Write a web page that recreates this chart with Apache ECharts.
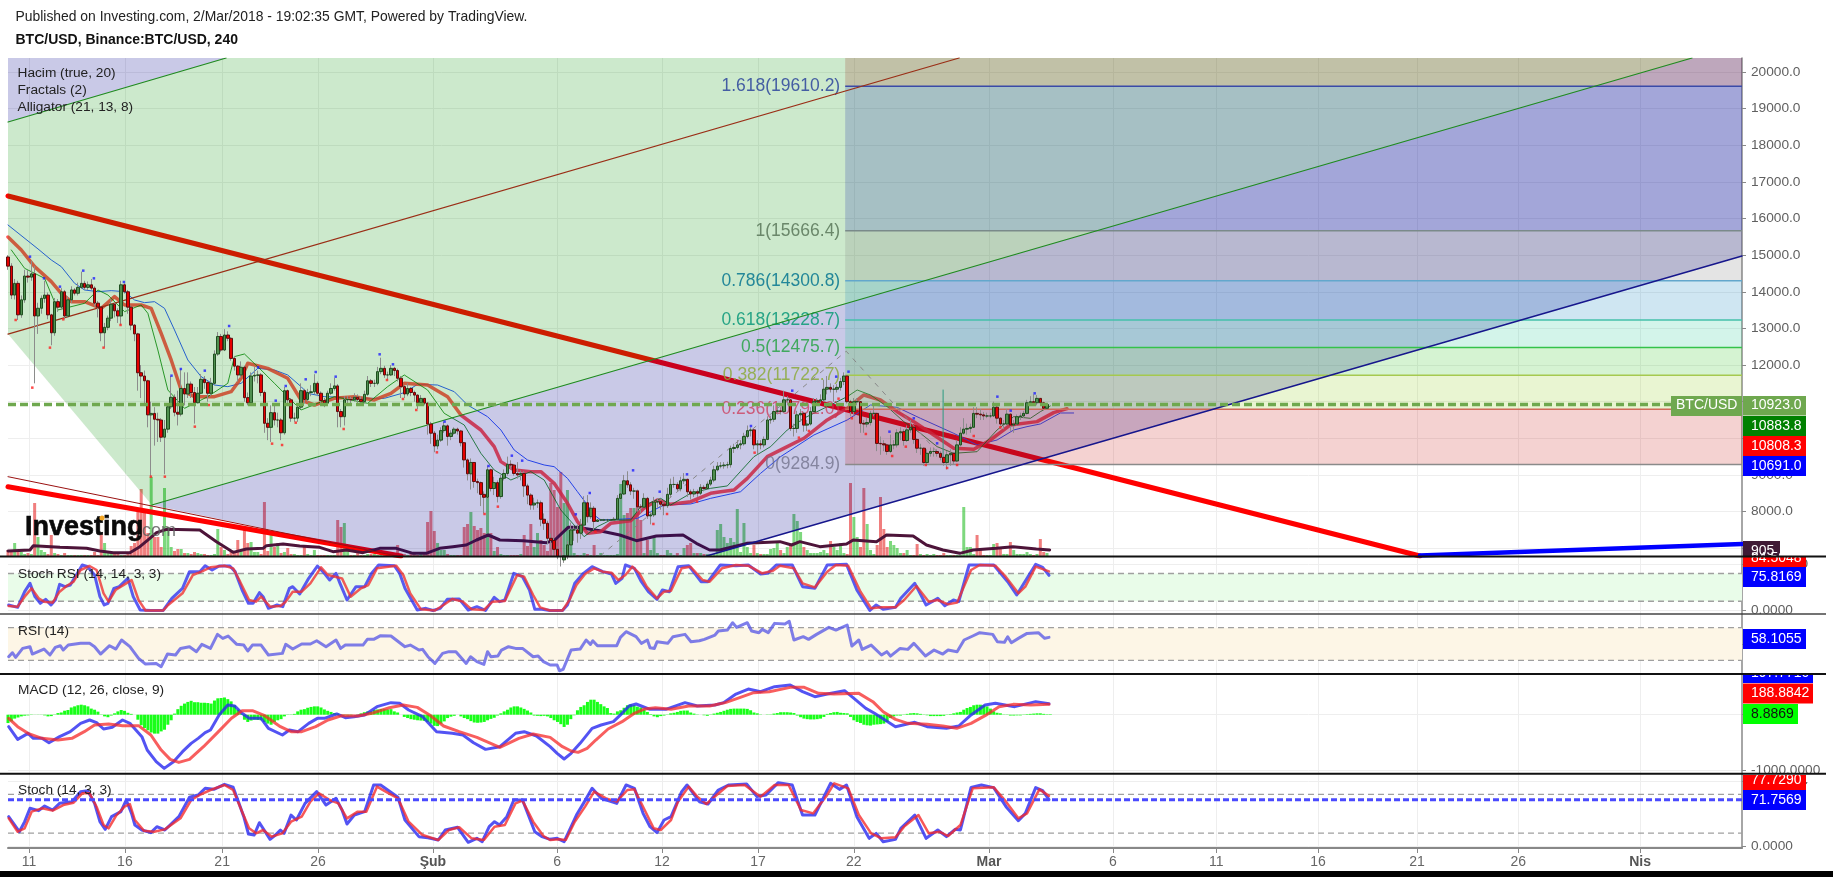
<!DOCTYPE html>
<html>
<head>
<meta charset="utf-8">
<style>html,body{margin:0;padding:0;background:#fff}#chart{width:1833px;height:877px}</style>
<script src="https://cdn.jsdelivr.net/npm/echarts@6/dist/echarts.min.js"></script>
</head>
<body>
<div id="chart"></div>
<script>
// BTC/USD 4h bars: open is the previous close
const firstOpen = 14950;
const closes = [14700,13910,14230,13370,13780,14430,14400,14490,13340,13550,
13820,13910,13370,12880,13730,13580,14000,13340,13780,14050,
13960,14120,14230,14120,14190,14100,13690,13580,12880,13030,
13280,13660,13480,13340,14190,14000,13580,13090,12850,11790,
11700,11570,10640,10680,10520,10500,10030,10250,10860,11120,
10710,10660,11360,11210,11480,11250,10970,11230,11610,11520,
11230,11500,12300,12780,12410,12820,12730,12180,11970,11730,
11940,11110,10970,11700,11720,11730,11250,10410,10300,10700,
10500,10500,10150,11300,11050,10550,10550,10850,11300,11060,
11250,11270,11500,11230,11030,10960,11230,11360,11430,10730,
10590,11050,11060,11050,11120,11060,11000,11200,11570,11500,
11500,11820,11910,11730,11730,11910,11850,11640,11410,11210,
11360,11250,11180,10970,11090,10960,10390,10140,9790,9950,
10210,10340,10050,10140,10250,10200,9880,9410,9030,9340,
8820,8790,8470,8390,9140,8630,8790,8410,8910,9040,
9290,9270,9040,9000,9040,8700,8450,8180,8230,8240,
7790,7680,7270,7210,6970,6770,6680,6790,7090,7500,
7500,7410,7630,8240,7860,8090,7730,7770,7770,7770,
7770,7770,7790,8360,8480,8840,8730,8560,8560,8130,
8120,8360,7880,7910,8260,8270,8200,8160,8470,8740,
8740,8620,8840,8880,8540,8480,8540,8500,8660,8630,
8750,8860,9140,9240,9250,9270,9280,9720,9750,9820,
9850,10050,10210,10230,9820,9850,9820,9970,10500,10520,
10730,10750,10730,11050,11050,10270,10270,10640,10680,10360,
10390,10730,11000,11020,11050,11340,11390,11340,11340,11390,
11550,11700,11000,10730,11000,11000,10410,10390,10430,10680,
10680,9860,9850,9820,9640,9820,9820,10150,10180,9940,
10230,10300,9970,9730,9730,9340,9590,9640,9640,9590,
9480,9340,9550,9590,9380,9820,10140,10250,10270,10300,
10680,10660,10640,10610,10610,10610,10850,10550,10390,10390,
10660,10360,10390,10590,10610,10680,10970,11000,10970,11090,
10970,10820,10923];
const highs = [15000,14780,14350,14300,13900,14600,14600,14850,14700,13700,
13900,14300,13980,13400,13830,13800,14100,14050,13880,14150,
14100,14250,14550,14300,14280,14350,14150,13750,13600,13150,
13350,13800,13700,13550,14300,14230,14050,13620,13120,12880,
12000,11850,11600,11000,10850,10700,10550,10500,10950,11700,
11200,11300,11900,11800,11800,11550,11400,11400,11750,11700,
11560,11650,12400,12900,12850,12980,12920,12760,12250,12000,
12100,11980,11250,11800,11950,11850,11780,11300,10550,10900,
10950,10700,10550,11400,11330,11100,10700,10950,11500,11350,
11350,11450,11750,11550,11280,11100,11300,11500,11650,11480,
10800,11150,11150,11130,11230,11200,11150,11300,11700,11620,
11600,11950,12200,11980,11820,12000,11950,11900,11700,11450,
11500,11400,11300,11200,11180,11100,10980,10450,10200,10100,
10300,10450,10380,10220,10300,10290,10230,9900,9450,9450,
9350,8900,8820,8550,9250,9170,8950,8850,9000,9150,
9500,9400,9300,9350,9120,9100,8760,8500,8380,8330,
8300,7950,7750,7400,7300,7050,6900,6900,7200,7700,
7600,7650,7800,8420,8450,8250,8150,7800,7800,7800,
7800,7800,7850,8450,8550,9000,9100,8800,8650,8600,
8200,8500,8400,8000,8400,8350,8300,8250,8650,8900,
8950,8800,8950,9050,8900,8600,8620,8600,8750,8720,
8820,8950,9250,9350,9350,9350,9360,9800,9850,9950,
9950,10150,10350,10300,10250,9950,9950,10050,10600,10620,
10900,10900,10850,11300,11150,11080,10400,10750,10800,10720,
10500,10850,11100,11100,11200,11600,11700,11500,11450,11480,
11650,11800,11720,11050,11100,11100,11020,10500,10550,10750,
10950,10700,10050,9950,9850,10100,9950,10250,10300,10250,
10350,10500,10320,10000,9850,9750,9700,9750,9750,9700,
9650,9550,9650,9700,9620,9950,10300,10550,10400,10400,
10850,10850,10800,10720,10700,10700,11000,10880,10580,10500,
10800,10680,10500,10650,10700,10750,11050,11150,11200,11180,
11100,11000,10960];
const lows = [14600,13800,13790,13230,13290,13700,14250,14300,11500,12850,
13400,13700,13250,12540,12800,13450,13500,13250,13300,13700,
13900,13900,14080,14050,14050,14050,13600,13300,12650,12480,
12950,13200,13300,13150,13100,13950,13400,12950,12650,11300,
11100,10900,10300,8960,9800,9900,9900,9020,10150,10800,
10600,10350,10600,10900,11100,11100,10400,10950,11200,11350,
11000,11150,11450,12250,12350,12380,12650,12120,11850,11550,
11650,11000,10900,10900,11550,11500,11150,10150,9950,9900,
10350,10300,9950,10100,10950,10450,10450,10450,10800,10950,
11000,11150,11200,11150,10950,10850,10900,11180,11300,10300,
10300,10350,10900,10900,11000,10950,10900,10950,11150,11400,
11400,11450,11750,11650,11600,11700,11700,11550,11100,11100,
11150,11150,11000,10800,10900,10900,10100,9850,9620,9700,
9900,10150,9800,9950,10100,10100,9780,9200,8850,8600,
8650,8500,8150,7950,8350,8550,8450,8250,8350,8850,
8980,9150,8980,8900,8850,8400,8200,8050,8050,8100,
7600,7500,7100,7000,6800,6700,6500,6600,6700,7050,
7200,7150,7250,7600,7700,7800,7500,7730,7740,7740,
7740,7740,7740,7770,8300,8450,8650,8450,8350,8000,
7950,8100,7800,7650,7850,8100,8050,7900,8100,8400,
8650,8550,8550,8750,8400,8330,8400,8400,8450,8550,
8600,8700,8800,9100,9180,9170,9180,9200,9600,9700,
9700,9800,10000,10050,9700,9560,9700,9750,9950,10400,
10450,10650,10650,10700,10900,10200,10050,10150,10450,10180,
10200,10350,10700,10950,10950,11000,11200,11250,11000,11250,
11300,11450,10950,10600,10650,10900,10150,10150,10300,10350,
10600,9650,9550,9650,9550,9600,9700,9750,9950,9800,
9900,10150,9850,9600,9550,9250,9300,9500,9500,9500,
9400,9250,9150,9250,9280,9350,9780,10100,10100,10150,
10280,10550,10500,10500,10550,10550,10580,10400,10250,10250,
10350,10200,10150,10350,10500,10550,10650,10900,10900,10900,
10900,10780,10780];
const volumes = [900,600,1950,600,600,300,450,300,7950,2850,
900,600,300,3150,450,300,150,450,150,150,
150,150,150,150,150,150,600,150,3450,1950,
450,600,300,300,150,150,300,1500,1950,6600,
10050,6900,3450,11850,2850,2850,1350,10200,4350,1350,
750,1050,1050,450,450,300,600,450,300,300,
150,150,300,4050,1350,900,300,600,450,2400,
900,3900,1950,2100,600,600,300,8100,750,3150,
1350,1950,450,600,1200,300,300,150,150,1350,
300,150,900,150,150,150,150,150,150,5400,
4350,4950,900,150,150,600,150,150,300,300,
300,150,300,150,300,150,300,1650,300,300,
150,300,300,150,300,300,5100,6750,3750,1950,
900,900,300,150,150,150,150,4350,4800,6600,
4500,3900,4200,3450,8700,3450,750,1350,300,150,
150,150,150,150,300,3150,1500,4800,1350,3450,
2400,1650,750,10950,9900,7350,12600,7950,9900,3900,
450,150,150,450,300,150,1650,150,450,150,
150,150,150,300,10800,6150,6450,7200,7200,9900,
5400,450,2400,900,2850,450,150,150,900,450,
150,450,150,1200,1650,1950,450,450,450,300,
300,300,300,3900,4800,2850,1950,2700,2100,7050,
600,4950,1350,450,1650,450,300,300,300,1050,
1200,1950,900,450,1350,1650,6300,5250,3600,1350,
900,450,450,450,600,900,450,2250,1350,900,
1950,450,300,10950,5850,2850,1350,10200,4800,900,
300,1650,8850,4050,1350,2250,1650,1200,450,450,
900,150,150,1800,300,150,300,150,300,150,
150,450,150,150,150,150,150,7350,1350,1350,
300,3150,1050,150,150,150,1800,1950,1050,300,
300,2100,900,300,300,300,600,300,150,300,
2550,600,450];
const volumeAverage = [[0,750],[6.6,900],[7.6,1550],[15.6,1300],[23.6,1150],[27.6,750],[31.6,500],[36.6,500],[39.6,1400],[42.6,2650],[44.6,3500],[47.6,4000],[57.6,3900],[62.6,2150],[67.6,550],[71.6,1050],[76.6,1150],[77.6,1550],[82.6,1800],[87.6,1500],[93.6,1300],[97.6,650],[101.6,900],[106.6,500],[111.6,1150],[116.6,1150],[121.6,400],[125.6,400],[129.6,1150],[133.6,1400],[137.6,1650],[140.7,2400],[144.2,3150],[147.7,2400],[154.7,2300],[161.7,2000],[164.2,2400],[168.2,4300],[170.7,4300],[177.7,3800],[183.7,3150],[188.7,2300],[194.7,3000],[202.7,3150],[206.7,1900],[210.7,900],[213.8,900],[221.8,1900],[231.8,2150],[235.3,1650],[237.8,2150],[243.8,1400],[251.8,1800],[253.8,2400],[260.8,2150],[263.8,3150],[271.8,3000],[275.8,1650],[280.8,900],[285.8,400],[289.8,900],[296.8,1150],[301.8,1400],[308.8,1050],[312.8,905]];

// Williams Alligator lines
const jawLine = [[0,15823],[9,15170],[13,14868],[16,14686],[20,14231],[23,14049],[27,14003],[31,14031],[35,14003],[38,13776],[41,13703],[44,13730],[47,13548],[50,12957],[54,12138],[58,11683],[62,11455],[66,11410],[70,11501],[75,11910],[80,11865],[84,11729],[88,11410],[90,11228],[95,11137],[101,11119],[107,11091],[113,11091],[119,11246],[123,11474],[129,11455],[134,11273],[138,10909],[144,10591],[148,10227],[152,9681],[156,9408],[161,9272],[164,9226],[168,8907],[171,8543],[174,8180],[176,7906],[178,7770],[183,7788],[189,7815],[193,7998],[197,8180],[205,8207],[211,8361],[217,8480],[220,8543],[226,9044],[232,9499],[242,10090],[252,10500],[259,10910],[267,10846],[274,10546],[284,10136],[291,9818],[297,9954],[302,10227],[306,10318],[310,10391],[316,10691],[320,10691]];
const teethLine = [[0,15495],[4,15141],[8,14686],[13,14276],[16,13958],[19,13730],[23,13730],[28,13548],[32,13867],[35,13639],[40,13639],[43,13548],[46,12866],[49,12138],[52,11319],[56,11137],[62,11137],[67,11273],[70,11638],[72,12047],[78,11910],[84,11638],[88,11046],[92,10909],[98,11091],[104,11137],[110,11046],[115,11228],[119,11501],[126,11455],[132,11137],[136,10636],[142,10227],[146,9772],[148,9363],[152,9135],[157,9090],[160,9090],[164,8771],[168,8225],[171,7725],[174,7406],[178,7452],[181,7679],[187,7752],[191,8089],[195,8316],[199,8198],[205,8270],[211,8498],[214,8543],[218,8589],[222,8907],[228,9499],[234,9772],[239,10000],[246,10500],[252,10818],[257,11183],[262,11046],[267,10727],[272,10455],[278,10090],[284,9727],[290,9700],[295,9954],[301,10364],[309,10455],[314,10700],[318,10808.3]];
const lipsLine = [[1,15141],[5,14640],[11,14367],[15,13503],[23,13685],[27,14049],[30,13912],[35,13458],[40,13639],[42,13412],[45,12411],[48,11319],[53,10818],[60,11137],[66,11501],[68,12230],[71,12302],[76,11865],[80,11501],[88,10773],[93,10955],[98,11137],[108,10955],[114,11410],[119,11729],[126,11319],[131,10682],[137,10364],[142,9590],[146,9135],[151,8862],[157,9090],[161,8862],[166,8043],[170,7633],[173,7315],[177,7588],[181,7770],[187,7770],[190,8134],[196,8361],[199,8180],[205,8498],[211,8634],[216,8700],[224,9499],[229,9772],[234,10227],[239,10548],[246,10864],[252,11137],[255,11319],[259,11183],[264,10864],[269,10455],[274,10136],[279,9772],[284,9590],[291,9635],[297,10227],[302,10591],[307,10546],[310,10727],[313,10883.8]];

// Bill Williams fractal marks
const fractalsUp = [[6.6,14959],[10.8,14367],[15.6,14140],[22.6,14577],[25.8,14367],[34.8,14267],[49.1,11710],[51.9,11892],[59.1,11847],[66.4,13066],[75.1,11938],[80.4,11028],[83.4,11428],[89.4,11610],[92.4,11810],[98.4,11683],[111.6,12293],[115.6,12020],[131.1,10455],[144.3,9244],[151.3,9526],[154.4,9390],[170.5,7925],[174.7,8507],[187.7,9126],[195.7,8543],[203.9,9017],[223.1,10336],[235.5,11301],[248.7,11683],[252.4,11819],[264.7,10181],[272,10546],[279,9863],[297.1,11137],[301.1,10755],[308.3,11228]];
const fractalsDown = [[2.3,13230],[7.3,11383],[12.6,12475],[16.6,13248],[28.7,12475],[33.8,13094],[42.9,8953],[47.1,8953],[56.1,10318],[60.3,10909],[79.3,9854],[82.3,9817],[86.4,10427],[100.8,10254],[113.8,11592],[118.6,11073],[122.6,10773],[128.8,9617],[143.1,7934],[147.1,8134],[176.4,7451],[193.8,7661],[197.9,7934],[206.9,8270],[224.2,9608],[237.5,10018],[240.5,10200],[249.4,11082],[253.4,10546],[257.6,10118],[265.5,9517],[269.6,9772],[275.6,9272],[282,9190],[285,9272],[290,10063],[298,10300]];

// Hand-drawn tools, anchored at bar index and price
const fibRatios = ['0','0.236','0.382','0.5','0.618','0.786','1','1.618'];
const fibPrices = [9284.9,10791.0,11722.7,12475.7,13228.7,14300.8,15666.4,19610.2];
const mainTrend = [[0,16615],[424,6787]];
const lowerTrend = [[0,8677],[118,6787]];
const thinLowerTrend = [[0,8952],[116.8,6787]];
const forkMedian = [[0,12847],[285.6,20382]];
const forkUpper = [[0,18635],[65.5,20382]];
const forkMiddle = [[43.2,8179],[505.7,20382]];
const forkLower = [[209.8,6787],[520.7,14977]];
const blueTrend = [[424,6800],[520.7,7114]];
const swingPath = [[177.8,6787],[251.7,12378],[279.9,9540]];
const spikeWick = [[280.8,9500],[280.8,11319]];

// Oscillators, read as [bar, value]
const stochRsiK = [[0.2,11.9],[2.9,6.8],[5,40.7],[6.6,58.7],[8.1,29.9],[9.7,15.5],[11.3,24.1],[12.9,11.9],[14.2,22.7],[15.5,56.6],[17.1,51.5],[18.7,55.1],[20.2,73.1],[22.3,98.4],[23.9,94.8],[26,76.8],[27.6,29.9],[28.9,11.9],[30,15.5],[31.8,47.9],[33.4,51.5],[36,69.5],[37.6,29.9],[39.7,1.1],[42.9,0],[46.6,0],[49.2,26.3],[52.4,47.9],[54.5,84],[57.6,84],[59.2,96.9],[61.3,87.6],[63.4,96.2],[66.6,96.2],[68.2,84],[70.3,44.3],[72.2,15.5],[73.6,15.5],[75.5,38.6],[76.6,29.9],[78.2,4.7],[80.8,11.9],[82.5,8.3],[84.5,47.9],[85.5,51.5],[87.6,35.7],[90.3,69.5],[92.9,96.2],[95,80.4],[96.6,65.9],[98.5,80.4],[99.7,58.7],[101.8,22.7],[104.5,51.5],[107.1,51.5],[109.2,80.4],[111.3,98.4],[116,96.9],[117.6,80.4],[119.2,47.9],[122.9,1.1],[125.5,4.7],[127.6,0],[129.8,4.7],[131.9,24.1],[135.5,24.8],[138.2,1.1],[140.8,8.3],[143.4,0],[146,28.5],[147.6,19.1],[149.2,22.7],[151.9,80.4],[154.5,73.1],[156.6,44.3],[158.2,2.5],[160.3,2.5],[162.8,0],[166.5,0],[168,12],[170.2,58.7],[172.8,80.4],[175.4,94.8],[178.6,84],[181.2,79],[182.5,58.7],[184.4,69.5],[185.4,98.4],[188.1,91.2],[190.2,62.3],[192.3,40.7],[194.9,24.1],[196.5,44.3],[198.6,40.7],[201.2,94.8],[204.4,97],[208.1,62.3],[210.2,62.3],[213.9,98.4],[218.6,96.9],[222.3,98.4],[226,79],[228.1,80.4],[230.7,98.4],[235.5,98.4],[238.6,51.5],[242.3,47.9],[246,98.4],[251.8,99.8],[254.9,44.3],[258.8,0],[260.7,11.9],[262.8,2.5],[266.5,6.8],[268.1,26.3],[272.3,58.7],[275.7,11.9],[279.2,26.3],[281.3,10.4],[283.9,22.7],[285.5,19.1],[288.6,98.4],[296,98.4],[300.2,62.3],[302.9,33.5],[308.6,99.8],[310.7,93.3],[312.6,75.8169]];
const stochRsiD = [[0.2,9.7],[2.9,8.3],[5,29.9],[7.1,47.9],[9.2,26.3],[10.8,19.1],[13.4,17],[15.5,40.7],[17.6,53],[19.7,62.3],[21.8,87.6],[24.5,96.2],[26.6,87.6],[28.7,37.1],[30.2,19.1],[32.3,44.3],[35.5,58.7],[37.1,65.9],[39.2,22.7],[41.3,0],[46.6,0],[48.1,11.9],[52.4,37.1],[55.5,76.7],[58.1,84],[60.8,93.3],[65,96.9],[67.6,91.2],[69.7,62.3],[72.4,22.7],[74.5,19.1],[76,29.9],[78.7,8.3],[81.8,9.7],[83.4,19.1],[85.5,40.7],[88.2,40.7],[90.8,58.7],[94,93.3],[96.1,76.7],[98.2,73.1],[100.3,69.5],[102.9,29.9],[106,47.9],[108.2,55.1],[110.8,91.2],[116.6,96.9],[118.7,76.7],[120.8,37.1],[124,2.5],[128.2,0],[130.8,11.9],[133.4,24.8],[136.6,19.1],[139.2,2.5],[142.9,1.1],[145.5,19.1],[149.2,20.5],[152.9,76.7],[155,73.1],[157.7,33.5],[159.8,6.8],[162.7,0],[166.5,0],[168.6,22.7],[170.7,55.1],[173.3,78.9],[176,91.2],[178.6,84],[181.2,81.8],[183.3,65.9],[185.4,76.7],[187.5,94.8],[189.6,80.4],[191.8,51.5],[194.9,26.3],[197,40.7],[199.1,42.9],[202.3,91.2],[204.9,94.8],[208.6,65.9],[210.7,62.3],[214.4,91.2],[218.6,98.4],[222.3,96.9],[226.5,80.4],[229.7,86.1],[231.8,96.9],[236,91.2],[238.6,58.7],[242.3,50],[246,84],[248.6,98.4],[252.3,96.9],[256,40.7],[259.2,4.7],[262.3,6.8],[266.5,6.8],[269.1,22.7],[272.8,53],[276.5,19.1],[279.2,22.7],[282.3,13.3],[285,17],[289.2,87.6],[291.8,98.4],[296.5,96.9],[299.6,73.1],[303.4,37.1],[305.5,51.5],[308.6,94.8],[312.6,84.5048]];
const rsiLine = [[0.2,34.4],[1.3,39.3],[2.3,33.6],[4.4,44.6],[6.6,46.7],[7.3,37.7],[10.8,43.8],[12.6,36.5],[14.2,45.9],[15.7,47.9],[16.6,42.6],[18.1,48.7],[21.8,50.8],[24.5,50.8],[26,46.7],[27.8,37.7],[30.5,47.9],[32.4,43.8],[34.1,54.9],[36.6,46.7],[39.2,32.4],[41.3,25.4],[44.5,26.2],[46,22.2],[47.9,37.7],[50.3,36.5],[51.8,44.6],[54.5,46.7],[56.6,40.6],[58.2,49.6],[60.8,44.6],[62.9,61.8],[64.5,56.9],[66.1,59.8],[68.7,49.6],[70.8,48.7],[72,41.4],[73.4,48.7],[76,48.7],[78.2,36.5],[82.4,38.5],[83.4,49.6],[85.5,43.8],[88.2,50],[90.8,50],[92.7,54],[95.5,46.7],[98.5,54.9],[99.9,44.6],[101.3,48.7],[106.6,48.7],[107.9,55.7],[109.8,55.7],[111.9,60.2],[115,59.8],[119.2,46.7],[120.8,48.7],[123.4,42.6],[124.5,43.4],[126.1,34.4],[128.2,26.2],[130.5,38.5],[132.4,40.6],[134.5,40.6],[137.6,26.2],[138.9,34.4],[140.8,28.3],[142.9,25],[144,40.6],[145,34.4],[147.1,35.2],[148.2,42.6],[150.3,46.7],[152.4,44.6],[154.5,44.6],[157.7,34.4],[159.2,35.2],[160.8,28.3],[162.8,24.2],[164.9,24.2],[165.6,17.2],[166.7,18.9],[169.1,42.6],[171.8,43.8],[173.6,54.9],[174.9,49.6],[175.6,54],[177,47.9],[182.8,47.9],[183.9,58.1],[185.6,65.1],[188.6,59],[190.2,50.8],[192,54.9],[192.8,45.5],[194.1,44.6],[194.9,52.8],[198.1,50.8],[199.7,59],[203.3,61.8],[205.1,52.8],[207.6,54],[209.1,55.7],[212.3,61],[213.3,65.9],[216,67.1],[217.6,76.1],[218.8,70.4],[222,76.1],[223.3,65.9],[225.5,63.9],[226.5,68],[228.3,63.9],[230.2,75.3],[233.3,74.5],[234.6,77.8],[236,54.9],[238.8,59],[240.4,55.7],[242.8,61.8],[246.5,70.4],[248.6,67.1],[252,73.3],[253.4,47.5],[255.5,54.9],[256.5,43.4],[259.2,48.7],[262.3,36.5],[263.9,40.6],[265,35.2],[267.9,44.6],[270.2,43.4],[272,50.8],[275.5,35.2],[278.1,42.6],[280.7,37.7],[282.3,42.6],[285,40.6],[287.1,54.9],[289.7,59.8],[291.8,63.9],[295.7,61.8],[297.1,52.8],[299.2,52],[300.2,58.9],[301.3,51.6],[303.4,56.9],[306,63],[309.4,63.9],[311.3,57],[312.6,58.1055]];
const macdLine = [[0.2,-215],[2.9,-443],[6,-335],[7.6,-425],[10.2,-425],[12.3,-503],[15.5,-395],[18.7,-305],[21.8,-155],[24.5,-95],[26.6,-143],[28.7,-257],[31.3,-227],[34.4,-95],[36.6,-155],[40.2,-395],[41.8,-635],[44.5,-845],[46.9,-965],[49.7,-845],[52.4,-665],[55,-515],[57.1,-425],[59.2,-323],[60.8,-275],[63.4,-5],[66,175],[68.1,157],[70.3,25],[72.4,-65],[76,-65],[78.2,-245],[82.4,-365],[84.5,-275],[87.1,-305],[90.3,-155],[92.9,-65],[95,-65],[98.7,13],[101.3,-53],[103.9,-35],[107.1,-5],[110.8,145],[115,217],[117.6,205],[120.3,85],[124.5,-35],[128.7,-305],[133.4,-335],[136.6,-365],[139.8,-503],[143.4,-623],[147.7,-575],[152.4,-335],[155,-305],[158.7,-383],[162.8,-575],[164.9,-695],[167,-797],[169.1,-695],[171.8,-515],[175.4,-245],[178.1,-185],[181.8,-125],[184.4,25],[186.5,157],[188.6,193],[192.8,97],[197.5,97],[203.3,217],[207,157],[212.3,175],[214.9,217],[218.6,372],[222.3,462],[226,414],[230.2,504],[234.9,534],[238.6,414],[242.3,324],[246,372],[251.2,432],[253.4,324],[257.6,114],[260.2,25],[266.5,-215],[272.3,-137],[276,-215],[281.8,-245],[285.5,-203],[289.2,-5],[293.4,175],[296.5,205],[302.3,145],[308.6,235],[312.6,197.771]];
const macdSignal = [[0.2,-65],[2.9,-215],[6,-335],[10.2,-425],[15,-455],[19.2,-425],[22.9,-305],[26,-185],[30.2,-167],[34.4,-197],[39.2,-197],[42.9,-365],[46,-635],[48.7,-803],[51.3,-857],[54.5,-803],[58.7,-575],[62.9,-323],[67.1,-65],[70.3,72],[73.4,72],[77.1,-17],[81.8,-215],[85,-305],[88.2,-305],[92.4,-215],[96.1,-95],[100.3,-17],[105,-23],[109.2,25],[114.5,126],[118.7,175],[122.9,132],[126.6,-5],[130.8,-203],[135.5,-305],[140.8,-407],[147.7,-587],[153.4,-425],[157.7,-347],[162.8,-407],[166.5,-575],[169.1,-653],[171.2,-677],[173.9,-605],[176.5,-455],[180.2,-257],[184.4,-125],[188.1,25],[191.2,103],[194.4,126],[199.1,97],[204.4,157],[210.7,157],[215.4,217],[219.7,306],[223.9,396],[228.6,414],[234.9,492],[239.1,492],[243.4,384],[248.1,372],[255.5,384],[259.7,234],[262.8,54],[266.5,-84],[270.2,-155],[276,-173],[280.7,-203],[284.9,-245],[289.2,-155],[293.4,-17],[297.6,145],[301.8,186],[307.1,174],[312.6,188.8842]];
const macdHist = [-150,-120,-70,-50,-30,-18,-12,-5,-2,3,
-3,-12,-30,-25,-5,30,40,72,85,130,
150,170,180,170,150,110,90,55,5,-30,
-45,-15,25,60,85,70,35,15,0,-90,
-190,-240,-280,-320,-340,-340,-300,-270,-180,-100,
20,100,160,200,230,250,225,225,215,215,
210,200,255,295,300,310,280,240,170,90,
20,-90,-130,-105,-90,-95,-100,-130,-160,-180,
-130,-100,-80,-30,-5,5,15,60,90,100,
125,140,150,150,130,95,70,50,30,20,
5,-10,-15,-10,0,5,25,45,60,60,
85,95,105,100,95,100,60,40,0,-40,
-60,-80,-90,-100,-105,-110,-130,-160,-200,-205,
-160,-120,-60,-35,-20,0,-30,-60,-80,-115,
-140,-145,-140,-130,-100,-75,-55,-15,25,60,
90,130,150,150,130,105,75,40,-15,-20,
-25,-20,-30,-60,-100,-130,-170,-220,-180,-80,
-10,80,140,170,230,270,270,230,190,150,
120,30,20,60,80,125,170,185,170,145,
130,95,50,10,-30,-45,-25,-15,-5,25,
35,50,70,75,75,40,20,5,0,-10,
-20,5,20,35,50,70,90,105,110,110,
110,110,105,80,40,25,5,0,-5,5,
20,30,45,45,45,40,30,-15,-45,-70,
-80,-85,-85,-80,-70,-40,15,30,45,50,
35,30,25,-40,-100,-130,-150,-180,-190,-195,
-180,-175,-170,-160,-130,-60,-30,-15,-15,5,
15,25,30,25,15,5,-10,-25,-25,-25,
-25,-20,-5,10,25,40,50,90,120,140,
170,180,180,170,150,110,60,35,25,5,
-5,-15,-15,-12,-12,-5,10,15,20,25,
25,15,8,8.8869];
const stochK = [[0.2,45.5],[3.4,22.2],[5,37.7],[6.6,58.4],[9.2,54.8],[11,62],[13.4,55.8],[15.5,66.1],[19.2,68.7],[21.8,84.2],[23.9,85.8],[26,66.1],[27.6,37.7],[29.2,25.8],[31.1,45.5],[33.9,53.2],[35.5,71.3],[37.1,50.6],[38.1,32.5],[40.2,24.8],[42.9,20.7],[44.7,29.9],[47.1,24.8],[51.3,45.5],[54.5,75.5],[57.1,79.1],[59.2,89.4],[61.8,87.8],[65,95.6],[67.6,91],[69.2,68.7],[70.8,45.5],[72.2,18.6],[73.9,17],[75.5,36.1],[78.7,10.3],[80.3,17],[81.8,24.8],[82.9,19.6],[85,48],[86.6,40.3],[89.2,66.1],[92.7,84.2],[95.5,63.5],[98.5,73.9],[100.3,55.8],[101.8,34],[104,48],[107.1,53.2],[109.8,94.6],[111.9,94.6],[117.1,75.5],[119.2,40.3],[123.4,14.5],[126.1,12.9],[129.2,9.3],[131.3,24.8],[135,29],[138.2,5.7],[140.8,11.9],[142.4,6.7],[144.5,29.9],[146.1,37.7],[147.6,32.5],[149.8,45.5],[151.9,71.3],[154.5,71.3],[158.2,22.2],[160.3,14.5],[162.8,10.3],[164.9,11.9],[167,6.7],[169.1,29.9],[170.7,48],[172.8,66.1],[175.4,89.4],[178.1,73.9],[182.8,66.1],[185.6,94.6],[188.1,89.4],[190.7,50.6],[192.8,29.9],[194.9,20.7],[197,40.3],[199.1,45.5],[202.3,84.2],[203.9,94.6],[207.6,68.7],[210.2,65.1],[213.3,86.8],[216.5,94.6],[221.8,96.1],[224.9,76.5],[227.6,79.1],[231.3,98.2],[235.5,94.6],[238.6,48],[242.3,48],[247,97.1],[249.7,87.8],[251.8,94.6],[254.9,45.5],[258.6,11.9],[260.7,19.6],[262.8,6.7],[266.5,10.3],[268.1,27.4],[272.3,48],[275.7,11.9],[279.2,24.8],[281.8,14.5],[284.4,25.8],[286,24.8],[289.2,90.9],[292.3,94.6],[296,90.5],[299.7,61],[303.4,39.2],[305.5,50.6],[308.6,90.5],[310.7,85.8],[312.6,71.7569]];
const stochD = [[0.2,42.9],[2.9,22.2],[5,27.4],[7.1,53.2],[10.2,58.4],[13.4,54.8],[16.6,63.5],[19.7,67.1],[22.3,81.6],[24.5,81.6],[26.6,60.9],[28.7,32.5],[30.2,27.4],[32.4,46.5],[35,61],[36.6,65.1],[38.1,40.3],[40.8,23.8],[43.9,22.2],[47.1,25.8],[51.8,42.9],[55,71.3],[57.6,79.1],[60.8,86.8],[65,94.6],[67.6,86.8],[70.3,53.2],[72.4,27.4],[74.5,19.6],[76.6,24.8],[79.2,14.5],[82.4,19.6],[85,37.7],[88.2,45.5],[90.8,68.7],[93.4,81.6],[96.6,71.3],[99.2,66.1],[101.8,42.9],[105,53.2],[107.6,53.2],[110.8,92],[113.4,84.2],[117.1,73.9],[120.3,37.7],[124.5,17],[129.2,9.3],[132.4,24.8],[135.5,29],[139.2,11.9],[142.9,9.3],[146.1,29.9],[149.2,32.5],[152.4,66.1],[154.5,70.3],[157.7,37.7],[160.8,15.5],[162.8,9.3],[165.4,10.3],[167.5,9.3],[170.2,37.7],[173.3,61],[176,84.2],[179.6,73.9],[182.8,68.7],[186,86.8],[188.1,87.8],[190.7,60.9],[193.9,27.4],[196,24.8],[199.1,40.3],[201.2,68.7],[204.4,92],[207,76.5],[209.7,65.1],[212.8,79.1],[216,93],[221.2,94.6],[226,76.5],[230.2,94.6],[234.4,94.6],[238.1,55.8],[241.8,50.6],[246,79.1],[248.1,97.1],[252.3,89.4],[255.5,48],[259.2,19.6],[262.3,11.9],[266.5,13.4],[269.1,30],[273.4,48],[276.5,19.6],[279.7,22.2],[282.3,15.5],[286,32.5],[289.7,89.4],[296,90.9],[299.7,68.7],[303.4,42.9],[306,50.6],[309.7,87.8],[312.6,77.729]];

// Time axis: bar positions of the date labels
const dateLabels = ['11','16','21','26','Şub','6','12','17','22','Mar','6','11','16','21','26','Nis'];
const monthLabels = ['Şub','Mar','Nis'];
const dateBars = [6.3,35.1,64.3,93.1,127.6,164.9,196.4,225.2,254,294.6,331.8,362.8,393.4,423.1,453.5,490.1];
const priceTicks = [7000,8000,9000,10000,11000,12000,13000,14000,15000,16000,17000,18000,19000,20000];

// Last values shown on the price scale
const lastPrice = 10923.0, lastLips = 10883.8, lastTeeth = 10808.3, lastJaw = 10691.0, lastVolAvg = 905;
const lastStochRsiK = 75.8169, lastStochRsiD = 84.5048, lastRsi = 58.1055;
const lastMacd = 197.771, lastSignal = 188.8842, lastHist = 8.8869, lastStochK = 71.7569, lastStochD = 77.729;

const FONT = '"Liberation Sans", Arial, sans-serif';
const BAR_MAX = 520.7;
const panes = [
  {top:58, height:498, min:6787, max:20382},
  {top:557, height:57, min:-7.6, max:115.7, ticks:[0,100]},
  {top:614, height:60, min:13.2, max:86.8, ticks:[50]},
  {top:674, height:100, min:-1066, max:732, ticks:[-1000,0]},
  {top:774, height:74, min:-3.1, max:111.6, ticks:[0,100]}
];

const grid = panes.map(p => ({left:8, width:1734, top:p.top, height:p.height}));
const faint = {show:true, lineStyle:{color:'#eeeeee', width:1}};
const xAxis = panes.map((p,i) => ({
  type:'value', gridIndex:i, min:0, max:BAR_MAX, scale:true,
  splitLine:faint,
  axisLine:{show:i===4, onZero:false, lineStyle:{color:'#888888', width:2}},
  axisTick:{show:i===4, customValues:dateBars, length:5, lineStyle:{color:'#888888'}},
  axisLabel:{show:i===4, customValues:dateBars, margin:7, fontFamily:FONT, fontSize:14, color:'#666666',
    formatter:v => {
      const label = dateLabels[dateBars.indexOf(v)];
      return monthLabels.includes(label) ? '{month|'+label+'}' : label;
    },
    rich:{month:{fontFamily:FONT, fontSize:14, fontWeight:'bold', color:'#555555'}}},
  silent:true
}));
const yAxis = panes.map((p,i) => {
  const ticks = i===0 ? priceTicks : p.ticks;
  const dec = i===0 ? 1 : 4;
  return {
    type:'value', gridIndex:i, position:'right', min:p.min, max:p.max, scale:true,
    splitLine:faint,
    axisLine:{show:true, onZero:false, lineStyle:{color:'#888888', width:1.5}},
    axisTick:{show:true, customValues:ticks, length:4, lineStyle:{color:'#888888'}},
    axisLabel:{customValues:ticks, margin:9, fontFamily:FONT, fontSize:13.7, color:'#606060',
      formatter:v => v.toFixed(dec)}
  };
});
// Volume shares the price pane on its own hidden scale
yAxis.push({type:'value', gridIndex:0, min:0, max:74700, show:false});

const opens = closes.map((c,i) => i ? closes[i-1] : firstOpen);

function line(name, data, color, width, z, axis, extra){
  return Object.assign({name, type:'line', data, xAxisIndex:axis, yAxisIndex:axis, z, symbol:'none', silent:true,
    lineStyle:{color, width, cap:'round', join:'round'}, animation:false, clip:true}, extra||{});
}
function polygon(name, verts, fill){
  return {name, type:'custom', xAxisIndex:0, yAxisIndex:0, z:3, silent:true, clip:true, animation:false,
    data:[verts[0]],
    renderItem:(params, api) => ({type:'polygon',
      shape:{points:verts.map(v => api.coord(v))}, style:{fill}})};
}
function band(name, axis, low, high, fill){
  return {name, type:'custom', xAxisIndex:axis, yAxisIndex:axis, z:1, silent:true, clip:true, animation:false,
    data:[[0,low]],
    renderItem:(params, api) => {
      const a = api.coord([0,high]), b = api.coord([BAR_MAX,low]);
      return {type:'rect', shape:{x:a[0], y:a[1], width:b[0]-a[0], height:b[1]-a[1]}, style:{fill}};
    }};
}
function hline(name, axis, value, color, width, dash, z){
  return line(name, [[0,value],[BAR_MAX,value]], color, width, z, axis, {
    lineStyle:{color, width, type:dash}});
}

// Fibonacci retracement: fills, level lines and price tags
const fibStart = 251.4;
const fibFills = ['rgba(200,30,25,.2)','rgba(145,205,30,.2)','rgba(45,195,30,.2)','rgba(35,200,150,.2)',
  'rgba(15,130,190,.2)','rgba(120,120,120,.2)','rgba(15,30,165,.2)','rgba(150,35,20,.2)'];
const fibLineColors = ['#8a8a8a','#d06a5a','#a5c94f','#35c24a','#45c0aa','#63a7cc','#7a8a8a','#3a4aa8'];
const fibTextColors = ['rgba(110,110,135,.75)','rgba(205,50,80,.72)','rgba(140,170,60,.85)','rgba(50,165,80,.9)',
  'rgba(30,160,130,.95)','rgba(25,130,150,.95)','rgba(100,130,100,.95)','rgba(60,85,160,.95)'];
const fibSeries = {
  name:'Fib Retracement', type:'custom', xAxisIndex:0, yAxisIndex:0, z:3, silent:true, clip:true, animation:false,
  data:fibPrices.map((p,i) => [i,p]),
  renderItem:(params, api) => {
    const i = params.dataIndex;
    const top = i < fibPrices.length-1 ? fibPrices[i+1] : panes[0].max;
    const a = api.coord([fibStart, top]), b = api.coord([BAR_MAX, fibPrices[i]]);
    return {type:'group', children:[
      {type:'rect', shape:{x:a[0], y:a[1], width:b[0]-a[0], height:b[1]-a[1]}, style:{fill:fibFills[i]}},
      {type:'line', shape:{x1:a[0], y1:b[1], x2:b[0], y2:b[1]}, style:{stroke:fibLineColors[i], lineWidth:1.5}},
      {type:'text', x:a[0]-5, y:b[1], style:{text:fibRatios[i]+'('+fibPrices[i].toFixed(1)+')', align:'right', verticalAlign:'middle',
        font:'17.5px '+FONT, fill:fibTextColors[i]}}
    ]};
  }
};

const series = [
  // Beneath the tint of the drawing tools
  line('Main trend', mainTrend, '#ff0000', 5, 2, 0),
  line('Lower trend', lowerTrend, '#ff0000', 5, 2, 0),
  line('Blue trend', blueTrend, '#0000ff', 4.5, 2, 0),
  {name:'Volume', type:'bar', xAxisIndex:0, yAxisIndex:5, z:2, silent:true, animation:false, barWidth:3,
   data:volumes.map((v,i) => ({value:[i,v], itemStyle:{color: closes[i]>=opens[i] ? 'rgba(40,190,40,.6)' : 'rgba(230,40,40,.6)'}}))},
  line('Volume MA', volumeAverage, '#4d1439', 3, 2, 5, {xAxisIndex:0, yAxisIndex:5}),
  line('Alligator Jaw', jawLine, '#2f55ff', 1, 2, 0),
  line('Alligator Teeth', teethLine, 'rgba(255,50,50,.85)', 3.5, 2, 0),
  line('Alligator Lips', lipsLine, 'rgba(0,128,0,.8)', 1, 2, 0),
  // Tinted regions of the pitchfork, then the retracement
  polygon('Fork upper zone', [[0,12847],[43.2,8179],[505.7,20382],[65.5,20382],[0,18635]], 'rgba(0,145,0,.2)'),
  polygon('Fork lower zone', [[43.2,8179],[505.7,20382],[BAR_MAX,20382],[BAR_MAX,14977],[209.8,6787],[116.8,6787]], 'rgba(0,0,140,.21)'),
  polygon('Fork outer zone', [[0,18635],[65.5,20382],[0,20382]], 'rgba(0,0,140,.21)'),
  fibSeries,
  line('Fork median', forkMedian, '#9a2e16', 1.3, 4, 0),
  line('Fork upper', forkUpper, '#1e8a1e', 1.2, 4, 0),
  line('Fork middle', forkMiddle, '#1e8a1e', 1.2, 4, 0),
  line('Fork lower', forkLower, '#16168c', 1.5, 4, 0),
  line('Descending channel', thinLowerTrend, '#9a1010', 1, 4, 0),
  line('Swing path', swingPath, '#888888', 1, 4, 0, {lineStyle:{color:'#888888', width:1, type:[5,6]}}),
  line('Spike', spikeWick, '#2a9a80', 1, 5, 0),
  // Candles: grey wicks under outlined bodies
  {name:'Wicks', type:'candlestick', xAxisIndex:0, yAxisIndex:0, z:5, silent:true, animation:false, barWidth:1, clip:true,
   encode:{x:0, y:[1,2,3,4]},
   itemStyle:{color:'#8c8c8c', color0:'#8c8c8c', borderColor:'#8c8c8c', borderColor0:'#8c8c8c', borderWidth:1},
   data:closes.map((c,i) => [i,c,c,lows[i],highs[i]])},
  {name:'BTC/USD', type:'candlestick', xAxisIndex:0, yAxisIndex:0, z:6, silent:true, animation:false, barWidth:3, clip:true,
   encode:{x:0, y:[1,2,3,4]},
   itemStyle:{color:'#4f8f4f', color0:'#e60000', borderColor:'#1f4f1f', borderColor0:'#5a0f0f', borderWidth:1},
   data:closes.map((c,i) => [i,opens[i],c,Math.min(opens[i],c),Math.max(opens[i],c)])},
  {name:'Fractals up', type:'scatter', xAxisIndex:0, yAxisIndex:0, z:6, symbol:'rect', symbolSize:2.5, silent:true, animation:false,
   itemStyle:{color:'#1f1fff'}, data:fractalsUp},
  {name:'Fractals down', type:'scatter', xAxisIndex:0, yAxisIndex:0, z:6, symbol:'rect', symbolSize:2.5, silent:true, animation:false,
   itemStyle:{color:'#ff1f1f'}, data:fractalsDown},
  hline('Last price', 0, lastPrice, '#6fa84f', 3.4, [8,4], 7),

  // Stochastic RSI
  band('Stoch RSI band', 1, 20, 80, '#e9fce9'),
  hline('Stoch RSI 80', 1, 80, '#a0a0a0', 1.3, [6,4], 2),
  hline('Stoch RSI 20', 1, 20, '#a0a0a0', 1.3, [6,4], 2),
  line('Stoch RSI K', stochRsiK, 'rgba(50,50,240,.8)', 3, 3, 1),
  line('Stoch RSI D', stochRsiD, 'rgba(240,50,50,.8)', 2.5, 3, 1),

  // RSI
  band('RSI band', 2, 30, 70, '#fdf6e6'),
  hline('RSI 70', 2, 70, '#a0a0a0', 1.3, [6,4], 2),
  hline('RSI 30', 2, 30, '#a0a0a0', 1.3, [6,4], 2),
  line('RSI', rsiLine, 'rgba(90,90,230,.78)', 3, 3, 2),

  // MACD
  {name:'MACD histogram', type:'bar', xAxisIndex:3, yAxisIndex:3, z:2, silent:true, animation:false, barWidth:3,
   itemStyle:{color:'#19ff19'}, data:macdHist.map((v,i) => [i,v])},
  line('MACD', macdLine, 'rgba(40,40,240,.8)', 3, 3, 3),
  line('Signal', macdSignal, 'rgba(245,40,40,.75)', 3, 3, 3),

  // Stochastic
  hline('Stoch 80', 4, 80, '#a0a0a0', 1.3, [6,4], 2),
  hline('Stoch 20', 4, 20, '#a0a0a0', 1.3, [6,4], 2),
  line('Stoch K', stochK, 'rgba(40,40,240,.8)', 3, 3, 4),
  line('Stoch D', stochD, 'rgba(245,40,40,.78)', 2.5, 3, 4),
  hline('Stoch last', 4, lastStochK, '#4a4aff', 3, [6,3], 4)
];

// Page furniture and price-scale tags, drawn in pixels
const txt = (text,x,y,font,fill,z,extra) => ({type:'text', x, y, z:z||100, silent:true,
  style:Object.assign({text, font:font+' '+FONT, fill, verticalAlign:'middle'}, extra||{})});
const rect = (x,y,w,h,fill,z) => ({type:'rect', shape:{x,y,width:w,height:h}, z:z||100, silent:true, style:{fill}});
const hr = (y,w,color) => ({type:'line', shape:{x1:0, y1:y, x2:1826, y2:y}, z:140, silent:true, style:{stroke:color, lineWidth:w}});
function tag(label,y,width,fill,textColor,top,bottom){
  // A value tag, cut off where its pane ends
  const t = Math.max(y-10, top), b = Math.min(y+10, bottom);
  return [rect(1743,t,width,b-t,fill,110), txt(label,1751,y,'14px',textColor,111)];
}
const axisGraphics = [
  txt('Published on Investing.com, 2/Mar/2018 - 19:02:35 GMT, Powered by TradingView.',15.5,17.5,'13.9px','#222222'),
  txt('BTC/USD, Binance:BTC/USD, 240',15.5,40.5,'bold 14px','#111111'),
  txt('Hacim (true, 20)',17.5,73,'13.7px','#222222'),
  txt('Fractals (2)',17.5,90,'13.7px','#222222'),
  txt('Alligator (21, 13, 8)',17.5,107,'13.7px','#222222'),
  txt('Stoch RSI (14, 14, 3, 3)',18,574,'13.7px','#222222'),
  txt('RSI (14)',18,631,'13.7px','#222222'),
  txt('MACD (12, 26, close, 9)',18,690.5,'13.7px','#222222'),
  txt('Stoch (14, 3, 3)',18,790,'13.7px','#222222'),
  txt('Investing',25,528,'bold 27px','#0a0a0a',105,{letterSpacing:-1.6, stroke:'#0a0a0a', lineWidth:0.6}),
  txt('.com',137,531,'18px','rgba(95,95,95,.85)',105,{letterSpacing:-0.5}),
  {type:'circle', shape:{cx:102,cy:518,r:2.5}, z:106, silent:true, style:{fill:'#f5a623'}},
  // Labels cut at the pane edges
  rect(1743,615,84,7,'#ffffff',105),
  rect(1743,775,84,7,'#ffffff',105),
  rect(1743,540,84,16,'#ffffff',104),
  // BTC/USD tag
  rect(1671,396,71,20,'#6fa84f',110),
  txt('BTC/USD',1676,405.5,'14px','#ffffff',111),
  ...tag(lastPrice.toFixed(1),405.5,63,'#6fa84f','#ffffff',396,416),
  ...tag(lastLips.toFixed(1),426,63,'#008000','#ffffff',416,436),
  ...tag(lastTeeth.toFixed(1),446,63,'#ff0000','#ffffff',436,456),
  ...tag(lastJaw.toFixed(1),466,63,'#0000ff','#ffffff',456,476),
  ...tag(String(lastVolAvg),551,37,'#3f1a35','#ffffff',541,556),
  ...tag(lastStochRsiD.toFixed(4),558,63,'#ff0000','#ffffff',557,567),
  ...tag(lastStochRsiK.toFixed(4),577,63,'#0000ff','#ffffff',567,587),
  ...tag(lastRsi.toFixed(4),639,63,'#0000ff','#ffffff',629,649),
  ...tag(lastMacd.toFixed(4),673,70,'#0000ff','#ffffff',675,683),
  ...tag(lastSignal.toFixed(4),693.5,70,'#ff0000','#ffffff',683.5,703.5),
  ...tag(lastHist.toFixed(4),714,55,'#00ff00','#111111',704,724),
  ...tag(lastStochD.toFixed(4),780,63,'#ff0000','#ffffff',775,790),
  ...tag(lastStochK.toFixed(4),800,63,'#0000ff','#ffffff',790,810),
  hr(556.5,2,'#111111'),
  hr(614,1.5,'#444444'),
  hr(674,2,'#111111'),
  hr(773.7,2,'#111111'),
  rect(0,871,1833,6,'#000000',150)
];

const chart = echarts.init(document.getElementById('chart'), null, {renderer:'canvas'});
chart.setOption({
  animation:false, backgroundColor:'#ffffff',
  grid, xAxis, yAxis, series,
  graphic:{elements:axisGraphics}
});
</script>
</body>
</html>
